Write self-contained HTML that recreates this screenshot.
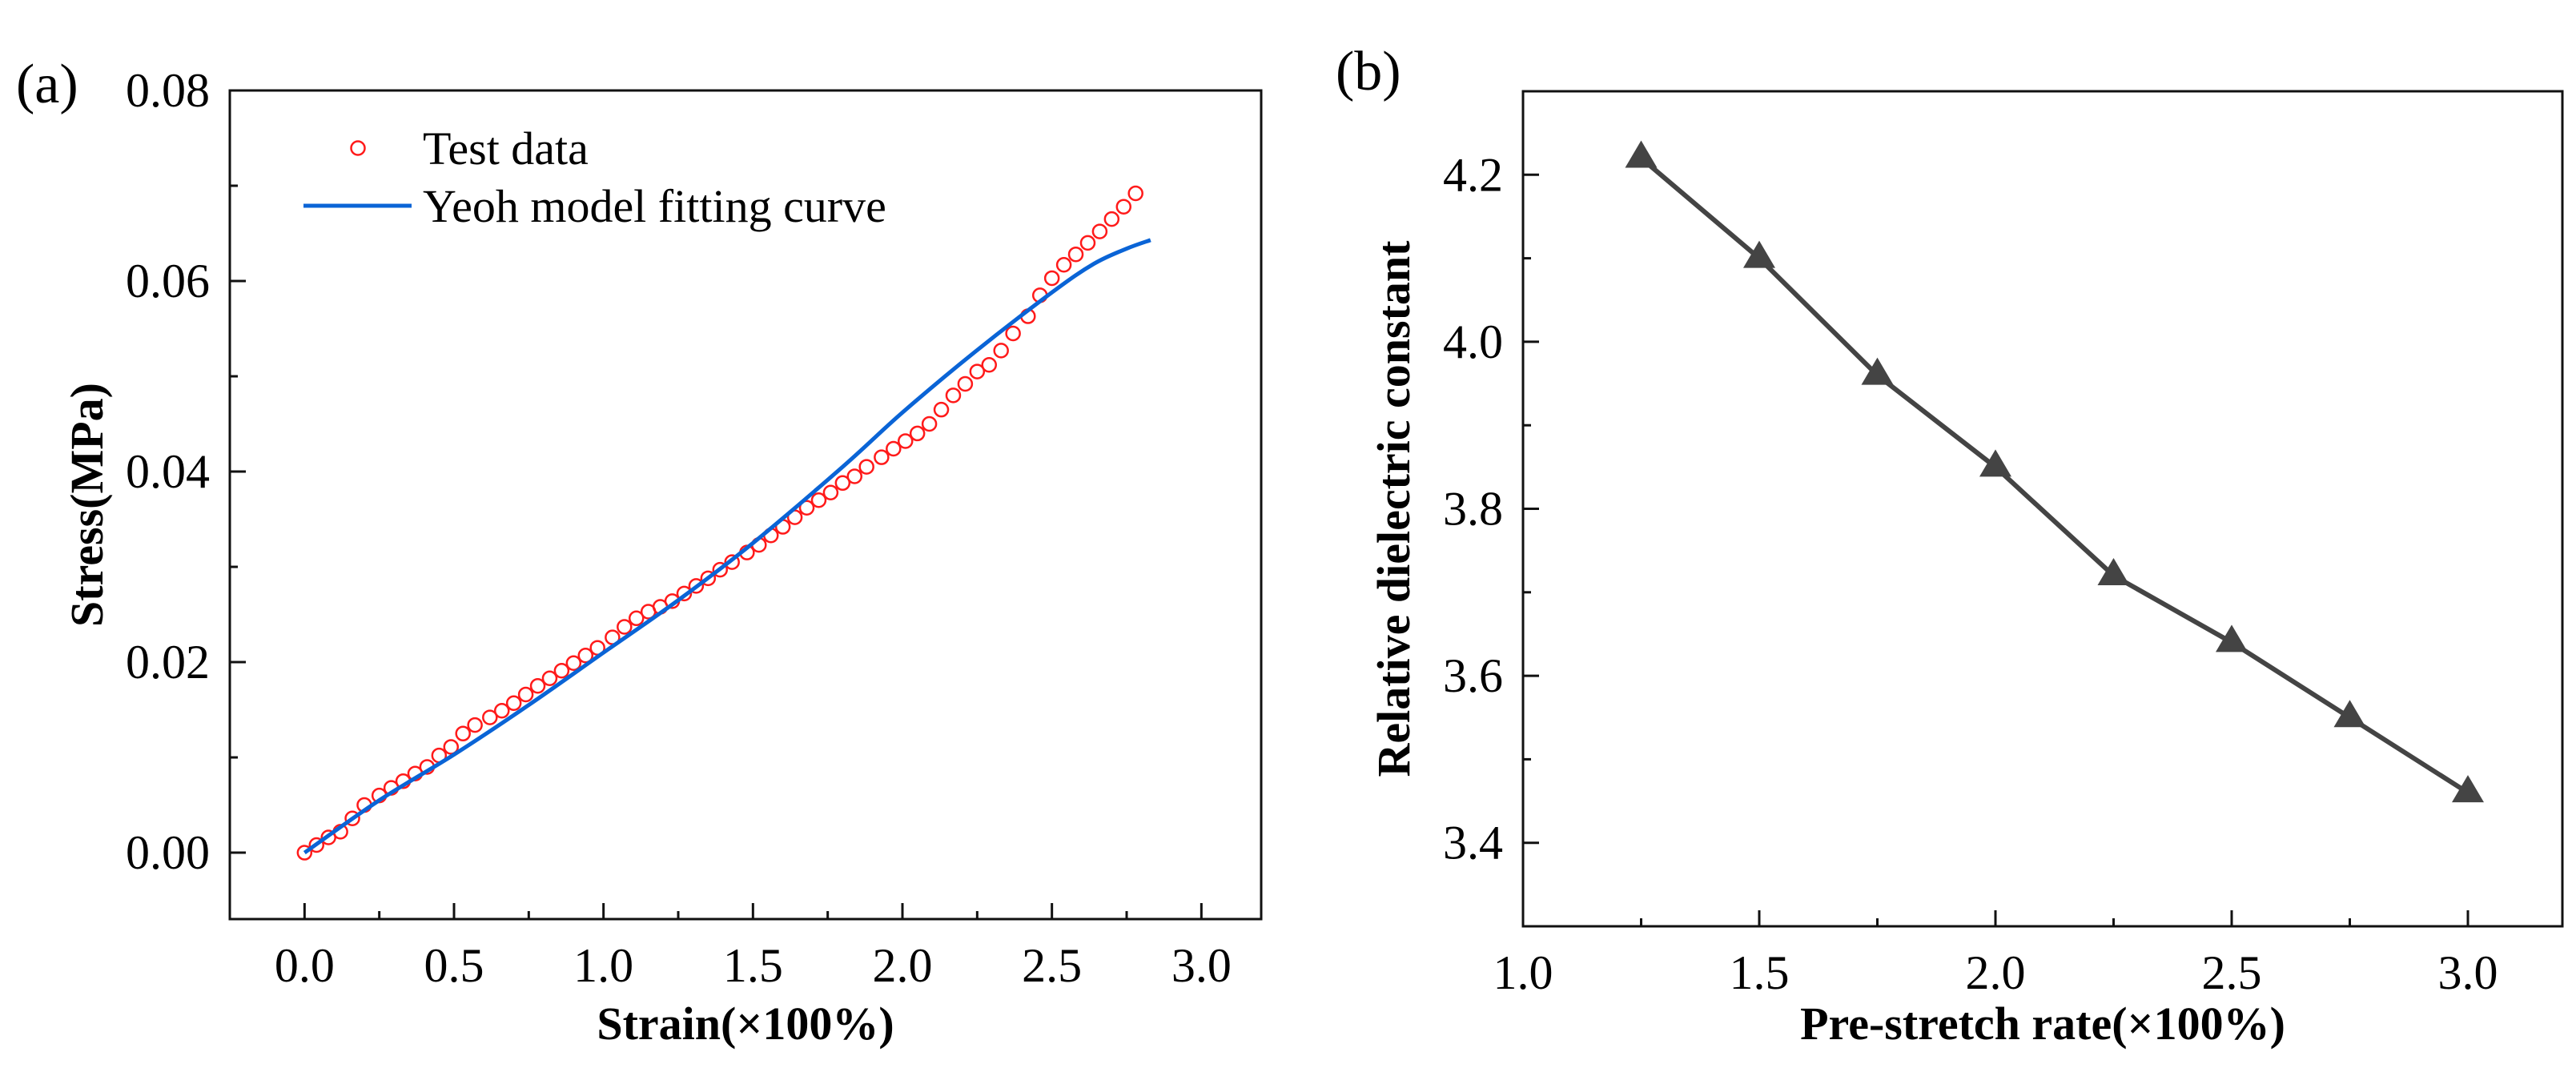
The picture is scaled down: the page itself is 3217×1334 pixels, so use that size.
<!DOCTYPE html>
<html><head><meta charset="utf-8">
<style>
html,body{margin:0;padding:0;background:#fff;}
svg{display:block;font-family:"Liberation Serif",serif;}
</style></head>
<body>
<svg id="fig" width="3217" height="1334" viewBox="0 0 3217 1334" xmlns="http://www.w3.org/2000/svg">
<rect width="3217" height="1334" fill="#fff"/>
<text x="20" y="128" font-size="70">(a)</text>
<text x="1668" y="112" font-size="70">(b)</text>
<g id="pa"></g>
<g id="pb"></g>
</svg>
<script>
// ---- Panel (a) data ----
const strainData = [0,0.04,0.08,0.12,0.16,0.20,0.25,0.29,0.33,0.37,0.41,0.45,0.49,0.53,0.57,0.62,0.66,0.70,0.74,0.78,0.82,0.86,0.90,0.94,0.98,1.03,1.07,1.11,1.15,1.19,1.23,1.27,1.31,1.35,1.39,1.43,1.48,1.52,1.56,1.60,1.64,1.68,1.72,1.76,1.80,1.84,1.88,1.93,1.97,2.01,2.05,2.09,2.13,2.17,2.21,2.25,2.29,2.33,2.37,2.42,2.46,2.50,2.54,2.58,2.62,2.66,2.70,2.74,2.78];
const stressData = [0,0.0008,0.0016,0.0022,0.0036,0.0050,0.0060,0.0068,0.0075,0.0083,0.0090,0.0102,0.0111,0.0125,0.0134,0.0142,0.0149,0.0157,0.0166,0.0175,0.0183,0.0191,0.0199,0.0207,0.0215,0.0226,0.0237,0.0246,0.0253,0.0258,0.0264,0.0272,0.0280,0.0288,0.0297,0.0305,0.0315,0.0323,0.0333,0.0342,0.0352,0.0362,0.0370,0.0378,0.0388,0.0395,0.0405,0.0415,0.0424,0.0432,0.0440,0.0450,0.0465,0.0480,0.0492,0.0505,0.0512,0.0527,0.0545,0.0563,0.0585,0.0603,0.0617,0.0628,0.0640,0.0652,0.0665,0.0678,0.0692];
const fitX = [0,0.25,0.5,0.75,1.0,1.25,1.5,1.8,2.0,2.24,2.5,2.64,2.75,2.83];
const fitY = [0,0.0055,0.0103,0.0155,0.0210,0.0265,0.0325,0.0405,0.0462,0.0525,0.0588,0.0618,0.0634,0.0643];
const aXTicks = [0,0.5,1.0,1.5,2.0,2.5,3.0];
const aXTickLabels = ["0.0","0.5","1.0","1.5","2.0","2.5","3.0"];
const aYTicks = [0,0.02,0.04,0.06,0.08];
const aYTickLabels = ["0.00","0.02","0.04","0.06","0.08"];
// ---- Panel (b) data ----
const stretchRate = [1.25,1.5,1.75,2.0,2.25,2.5,2.75,3.0];
const dielectric = [4.22,4.10,3.96,3.85,3.72,3.64,3.55,3.46];
const bXTicks = [1.0,1.5,2.0,2.5,3.0];
const bXTickLabels = ["1.0","1.5","2.0","2.5","3.0"];
const bYTicks = [3.4,3.6,3.8,4.0,4.2];
const bYTickLabels = ["3.4","3.6","3.8","4.0","4.2"];

const NS="http://www.w3.org/2000/svg";
function mk(parent,tag,attrs,text){const e=document.createElementNS(NS,tag);for(const k in attrs)e.setAttribute(k,attrs[k]);if(text!==undefined)e.textContent=text;parent.appendChild(e);return e;}

function axes(g,L,T,R,B,sx,sy,xT,xTL,xMinor,yT,yTL,yMinor,xTitle,yTitle,yTitleX,nm){
  const fr=mk(g,'rect',{x:L,y:T,width:R-L,height:B-T,fill:'none',stroke:'#111','stroke-width':3});
  
  
  xT.forEach((v,i)=>{const x=sx(v);
    const t=mk(g,'line',{x1:x,x2:x,y1:B,y2:B-20,stroke:'#111','stroke-width':3});
    
    
    const l=mk(g,'text',{x:x,y:B+78,'font-size':60,'text-anchor':'middle'},xTL[i]);
    
    
  });
  xMinor.forEach(v=>{const x=sx(v);
    const t=mk(g,'line',{x1:x,x2:x,y1:B,y2:B-10,stroke:'#111','stroke-width':3});
    
    
  });
  yT.forEach((v,i)=>{const y=sy(v);
    const t=mk(g,'line',{x1:L,x2:L+20,y1:y,y2:y,stroke:'#111','stroke-width':3});
    
    
    const l=mk(g,'text',{x:L-25,y:y+20,'font-size':60,'text-anchor':'end'},yTL[i]);
    
    
  });
  yMinor.forEach(v=>{const y=sy(v);
    const t=mk(g,'line',{x1:L,x2:L+10,y1:y,y2:y,stroke:'#111','stroke-width':3});
    
    
  });
  const xt=mk(g,'text',{x:(L+R)/2,y:1298,'font-size':58,'font-weight':'bold','text-anchor':'middle'},xTitle);
  
  
  const cy=(T+B)/2;
  const yt=mk(g,'text',{x:yTitleX,y:cy,'font-size':58,'font-weight':'bold','text-anchor':'middle',transform:`rotate(-90 ${yTitleX} ${cy})`},yTitle);
  
  
}

// Panel A
(function(){
  const g=document.getElementById('pa');
  const L=287,T=113,R=1575,B=1148;
  const x0=-0.25,x1=3.2,y0=-0.00697,y1=0.08;
  const sx=v=>L+(v-x0)/(x1-x0)*(R-L);
  const sy=v=>B-(v-y0)/(y1-y0)*(B-T);
  axes(g,L,T,R,B,sx,sy,aXTicks,aXTickLabels,[0.25,0.75,1.25,1.75,2.25,2.75],aYTicks,aYTickLabels,[0.01,0.03,0.05,0.07],"Strain(×100%)","Stress(MPa)",128,'stress');
  const P=fitX.map((v,i)=>[sx(v),sy(fitY[i])]);
  let d=`M${P[0][0]},${P[0][1]}`;
  for(let i=0;i<P.length-1;i++){const p0=P[i-1]||P[i],p1=P[i],p2=P[i+1],p3=P[i+2]||P[i+1];
    d+=` C${p1[0]+(p2[0]-p0[0])/6},${p1[1]+(p2[1]-p0[1])/6} ${p2[0]-(p3[0]-p1[0])/6},${p2[1]-(p3[1]-p1[1])/6} ${p2[0]},${p2[1]}`;}
  strainData.forEach((v,i)=>{
    const c=mk(g,'circle',{cx:sx(v),cy:sy(stressData[i]),r:8.5,fill:'none',stroke:'#ff1a1a','stroke-width':2.5});
    
    
  });
  const fp=mk(g,'path',{d:d,fill:'none',stroke:'#0a64d6','stroke-width':5});
  
  
  const lg=mk(g,'g',{});
  
  
  const lc=mk(lg,'circle',{cx:447,cy:185,r:8.5,fill:'none',stroke:'#ff1a1a','stroke-width':2.5});
  
  
  const lt1=mk(lg,'text',{x:528,y:205,'font-size':58},'Test data');
  
  
  const ll=mk(lg,'line',{x1:379,x2:514,y1:257,y2:257,stroke:'#0a64d6','stroke-width':5});
  
  
  const lt2=mk(lg,'text',{x:528,y:277,'font-size':58},'Yeoh model fitting curve');
  
  
})();

// Panel B
(function(){
  const g=document.getElementById('pb');
  const L=1902,T=114,R=3200,B=1157;
  const x0=1.0,x1=3.2,y0=3.3,y1=4.3;
  const sx=v=>L+(v-x0)/(x1-x0)*(R-L);
  const sy=v=>B-(v-y0)/(y1-y0)*(B-T);
  axes(g,L,T,R,B,sx,sy,bXTicks,bXTickLabels,[1.25,1.75,2.25,2.75],bYTicks,bYTickLabels,[3.5,3.7,3.9,4.1],"Pre-stretch rate(×100%)","Relative dielectric constant",1760,'dielectric');
  const pts=stretchRate.map((v,i)=>`${sx(v)},${sy(dielectric[i])}`).join(' ');
  const pl=mk(g,'polyline',{points:pts,fill:'none',stroke:'#444','stroke-width':6});
  
  
  stretchRate.forEach((v,i)=>{const x=sx(v),y=sy(dielectric[i]);
    const tr=mk(g,'polygon',{points:`${x},${y-22} ${x-20},${y+12} ${x+20},${y+12}`,fill:'#444'});
    
    
  });
})();
</script>
</body></html>
